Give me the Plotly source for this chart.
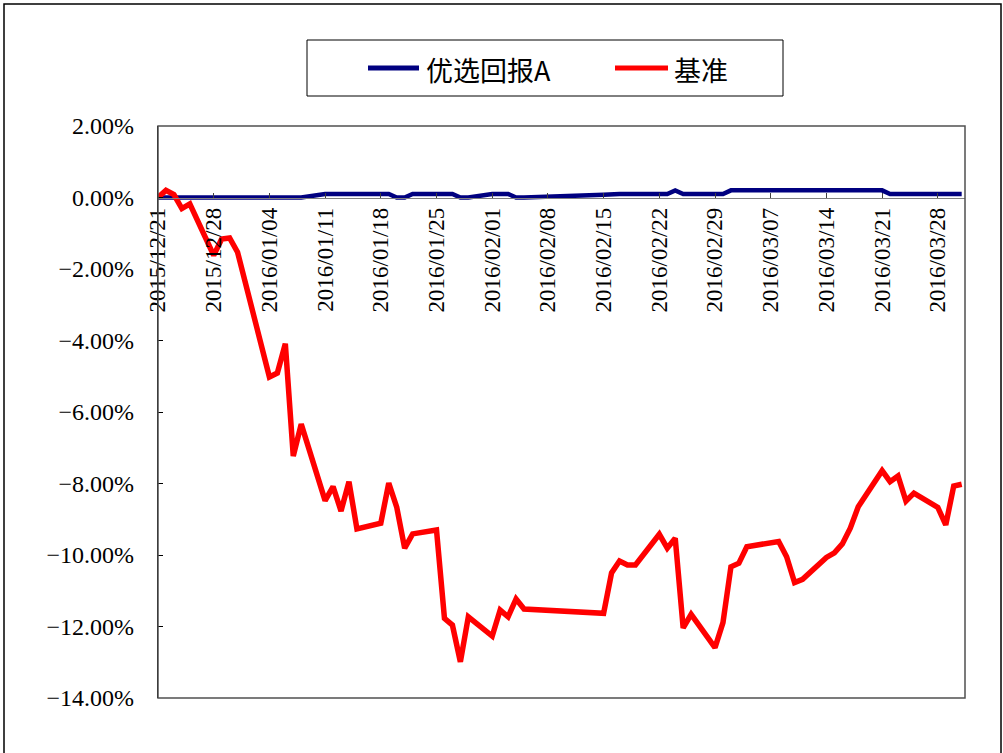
import plotly.graph_objects as go

# ---------------- data ----------------
dates = [
    "2015-12-21", "2015-12-22", "2015-12-23", "2015-12-24", "2015-12-25",
    "2015-12-28", "2015-12-29", "2015-12-30", "2015-12-31",
    "2016-01-04", "2016-01-05", "2016-01-06", "2016-01-07", "2016-01-08",
    "2016-01-11", "2016-01-12", "2016-01-13", "2016-01-14", "2016-01-15",
    "2016-01-18", "2016-01-19", "2016-01-20", "2016-01-21", "2016-01-22",
    "2016-01-25", "2016-01-26", "2016-01-27", "2016-01-28", "2016-01-29",
    "2016-02-01", "2016-02-02", "2016-02-03", "2016-02-04", "2016-02-05",
    "2016-02-15", "2016-02-16", "2016-02-17", "2016-02-18", "2016-02-19",
    "2016-02-22", "2016-02-23", "2016-02-24", "2016-02-25", "2016-02-26",
    "2016-02-29", "2016-03-01", "2016-03-02", "2016-03-03", "2016-03-04",
    "2016-03-07", "2016-03-08", "2016-03-09", "2016-03-10", "2016-03-11",
    "2016-03-14", "2016-03-15", "2016-03-16", "2016-03-17", "2016-03-18",
    "2016-03-21", "2016-03-22", "2016-03-23", "2016-03-24", "2016-03-25",
    "2016-03-28", "2016-03-29", "2016-03-30", "2016-03-31",
]

fund_a = [
    0.00, 0.00, 0.00, 0.00, 0.00,
    0.00, 0.00, 0.00, 0.00,
    0.00, 0.00, 0.00, 0.00, 0.00,
    0.10, 0.10, 0.10, 0.10, 0.10,
    0.10, 0.10, 0.00, 0.00, 0.10,
    0.10, 0.10, 0.10, 0.00, 0.00,
    0.10, 0.10, 0.10, 0.00, 0.00,
    0.08, 0.10, 0.10, 0.10, 0.10,
    0.10, 0.10, 0.20, 0.10, 0.10,
    0.10, 0.10, 0.20, 0.20, 0.20,
    0.20, 0.20, 0.20, 0.20, 0.20,
    0.20, 0.20, 0.20, 0.20, 0.20,
    0.20, 0.10, 0.10, 0.10, 0.10,
    0.10, 0.10, 0.10, 0.10,
]

benchmark = [
    0.00, 0.20, 0.08, -0.31, -0.18,
    -1.62, -1.16, -1.13, -1.53,
    -5.02, -4.91, -4.09, -7.23, -6.34,
    -8.48, -8.09, -8.77, -7.95, -9.27,
    -9.11, -7.99, -8.66, -9.81, -9.41,
    -9.30, -11.77, -11.96, -12.99, -11.73,
    -12.27, -11.54, -11.73, -11.23, -11.51,
    -11.63, -10.50, -10.17, -10.28, -10.28,
    -9.42, -9.81, -9.53, -12.04, -11.66,
    -12.59, -11.89, -10.33, -10.23, -9.77,
    -9.68, -9.62, -10.05, -10.77, -10.68,
    -10.07, -9.94, -9.69, -9.25, -8.65,
    -7.64, -7.95, -7.79, -8.49, -8.27,
    -8.67, -9.16, -8.07, -8.02,
]

tick_dates = [
    "2015-12-21", "2015-12-28", "2016-01-04", "2016-01-11", "2016-01-18",
    "2016-01-25", "2016-02-01", "2016-02-08", "2016-02-15", "2016-02-22",
    "2016-02-29", "2016-03-07", "2016-03-14", "2016-03-21", "2016-03-28",
]
tick_text = [d.replace("-", "/") for d in tick_dates]

series_names = ["优选回报A", "基准"]
series_colors = ["#000080", "#FF0000"]
series_widths = [4.5, 5.5]

# ---------------- layout geometry (pixels) ----------------
FIG_W, FIG_H = 1003, 753
L, R, T, B = 158, 965, 126, 698
PW, PH = R - L, B - T


def px_x(p):
    return (p - L) / PW


def px_y(p):
    return (B - p) / PH


fig = go.Figure()
for name, vals, col, w in zip(series_names, [fund_a, benchmark], series_colors, series_widths):
    fig.add_trace(go.Scatter(
        x=dates, y=vals, mode="lines", name=name,
        line=dict(color=col, width=w), showlegend=False,
    ))

y_min, y_max = -14, 2
zero_frac = (0 - y_min) / (y_max - y_min)

fig.update_layout(
    width=FIG_W, height=FIG_H, autosize=False,
    margin=dict(l=L, r=FIG_W - R, t=T, b=FIG_H - B, pad=0),
    paper_bgcolor="white", plot_bgcolor="white",
    showlegend=False,
    xaxis=dict(
        type="date",
        range=["2015-12-21", "2016-03-31 10:00"],
        tickmode="array", tickvals=tick_dates, ticktext=tick_text,
        tickangle=-90,
        anchor="free", position=zero_frac, side="bottom",
        showline=True, linecolor="#808080", linewidth=1,
        ticks="inside", ticklen=5, tickcolor="#404040",
        showgrid=False, zeroline=False,
        tickfont=dict(family="Liberation Serif", size=23, color="black"),
    ),
    yaxis=dict(
        range=[y_min, y_max], dtick=2, tick0=0,
        tickformat=".2f", ticksuffix="%",
        showline=True, linecolor="black", linewidth=1.2,
        ticks="inside", ticklen=5, tickcolor="black",
        showgrid=False, zeroline=False,
        ticklabelstandoff=18,
        tickfont=dict(family="Liberation Serif", size=24, color="black"),
    ),
)

shapes = []
# plot area frame
shapes.append(dict(type="rect", xref="paper", yref="paper", x0=0, x1=1, y0=0, y1=1,
                   line=dict(color="#505050", width=1.5), layer="above"))
# outer chart border
shapes.append(dict(type="rect", xref="paper", yref="paper",
                   x0=px_x(4), x1=px_x(1001), y0=px_y(770), y1=px_y(4),
                   line=dict(color="black", width=1.5), layer="below"))
# legend box
shapes.append(dict(type="rect", xref="paper", yref="paper",
                   x0=px_x(307), x1=px_x(783), y0=px_y(96), y1=px_y(40),
                   line=dict(color="black", width=1), fillcolor="white", layer="below"))

annotations = []
legend_items = [(368, 419, 424), (615, 668, 672)]
for (lx0, lx1, tx), name, col in zip(legend_items, series_names, series_colors):
    shapes.append(dict(type="line", xref="paper", yref="paper",
                       x0=px_x(lx0), x1=px_x(lx1), y0=px_y(68), y1=px_y(68),
                       line=dict(color=col, width=5)))
    annotations.append(dict(xref="paper", yref="paper", x=px_x(tx), y=px_y(69),
                            text=name, showarrow=False, xanchor="left", yanchor="middle",
                            font=dict(family="Noto Sans CJK SC", size=27, color="black")))

fig.update_layout(shapes=shapes, annotations=annotations)

fig.write_html("out.html", config={"displayModeBar": False},
               post_script="document.body.style.margin='0';")
